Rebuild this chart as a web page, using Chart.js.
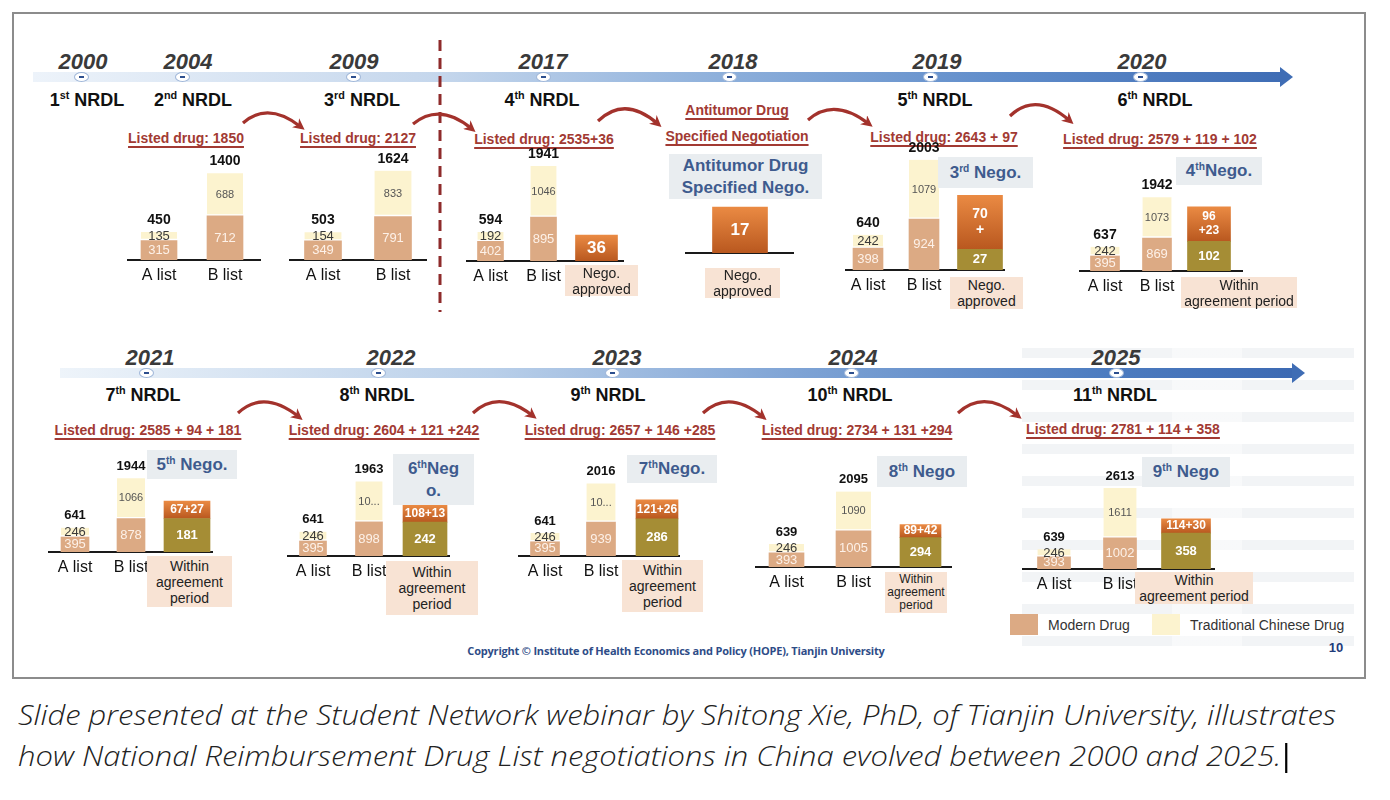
<!DOCTYPE html>
<html>
<head>
<meta charset="utf-8">
<script src="https://cdn.jsdelivr.net/npm/chart.js@4.4.1/dist/chart.umd.min.js"></script>
<style>
  body { margin:0; width:1390px; height:800px; overflow:hidden; position:relative; background:#fff;
         font-family:"Liberation Sans", Arial, sans-serif; color:#111; }
  .abs { position:absolute; }
  sup { font-size:0.6em; vertical-align:0.6em; line-height:0; }
  #frame { left:12px; top:12px; width:1350px; height:663px; border:2px solid #8c8c8c; }
  .year { font-style:italic; font-weight:bold; font-size:22px; color:#3a3a3a; }
  .nrdl { font-weight:bold; font-size:18px; color:#111; }
  .listed { font-weight:bold; font-size:14px; color:#a23a33; text-decoration:underline;
            text-decoration-thickness:1.5px; text-underline-offset:3px; text-align:center; }
  .round { background:#e9edf0; color:#3e5b8e; font-weight:bold; font-size:17px; display:flex;
           align-items:center; justify-content:center; text-align:center; line-height:22px; z-index:2; }
  .capbox { background:#f8e3d4; color:#222; font-size:14px; display:flex; align-items:center;
            justify-content:center; text-align:center; line-height:16px; z-index:2; }
  .baseline { height:2px; background:#1a1a1a; z-index:1; }
  .dot { width:13px; height:8px; border-radius:50%; background:#fff; border:1.5px solid #9fb6d8; }
  .dot::after { content:""; position:absolute; left:4px; top:3px; width:5px; height:2px; background:#2d4f8e; }
  .stripes { background:repeating-linear-gradient(180deg, #f2f4f6 0 10px, rgba(255,255,255,0) 10px 32px); z-index:0; }
</style>
</head>
<body>
<div id="frame" class="abs"></div>
<div class="abs stripes" style="left:1022px;top:348px;width:150px;height:300px;"></div>
<div class="abs stripes" style="left:1172px;top:348px;width:70px;height:300px;opacity:0.55;"></div>
<div class="abs stripes" style="left:1242px;top:348px;width:112px;height:300px;"></div>
<svg class="abs" id="deco" width="1390" height="800" style="left:0;top:0;z-index:3;pointer-events:none">
  <defs>
    <marker id="ah" viewBox="0 0 10 10" refX="6" refY="5" markerWidth="3.6" markerHeight="3.6" orient="auto">
      <path d="M0,0 L10,5 L0,10 L3,5 z" fill="#a3322c"/>
    </marker>
  </defs>
</svg>
<script>
// ---------- data ----------
const panelYears = ['2004', '2009', '2017', '2018', '2019', '2020', '2021', '2022', '2023', '2024', '2025'];
const listedDrug = ['Listed drug: 1850', 'Listed drug: 2127', 'Listed drug: 2535+36',
  'Antitumor Drug\nSpecified Negotiation', 'Listed drug: 2643 + 97', 'Listed drug: 2579 + 119 + 102',
  'Listed drug: 2585 + 94 + 181', 'Listed drug: 2604 + 121 +242', 'Listed drug: 2657 + 146 +285',
  'Listed drug: 2734 + 131 +294', 'Listed drug: 2781 + 114 + 358'];
const listCategories = ['A list', 'B list'];
const seriesNames = ['Modern Drug', 'Traditional Chinese Drug'];
const aModern = [315, 349, 402, null, 398, 395, 395, 395, 395, 393, 393];
const aTcm    = [135, 154, 192, null, 242, 242, 246, 246, 246, 246, 246];
const bModern = [712, 791, 895, null, 924, 869, 878, 898, 939, 1005, 1002];
const bTcm    = [688, 833, 1046, null, 1079, 1073, 1066, 1065, 1077, 1090, 1611];
const bTcmText = [null, null, null, null, null, null, null, '10...', '10...', null, null];
const negoTop  = [null, null, 36, 17, 70, 119, 94, 121, 147, 131, 144];
const negoTopText = [null, null, '36', '17', '70\n+', '96\n+23', '67+\n27', '108\n+13', '121\n+26', '89+\n42', '114+\n30'];
const negoAgree = [null, null, null, null, 27, 102, 181, 242, 286, 294, 358];
const negoRound = [null, null, null, 'Antitumor Drug\nSpecified Nego.', '3rd Nego.', '4thNego.', '5th Nego.',
  '6thNeg\no.', '7thNego.', '8th Nego', '9th Nego'];
const negoCaption = [null, null, 'Nego.\napproved', 'Nego.\napproved', 'Nego.\napproved', 'Within\nagreement period',
  'Within\nagreement\nperiod', 'Within\nagreement\nperiod', 'Within\nagreement\nperiod', 'Within\nagreement\nperiod',
  'Within\nagreement period'];
const yearsTop = ['2000', '2004', '2009', '2017', '2018', '2019', '2020'];
const nrdlTop = ['1st', '2nd', '3rd', '4th', null, '5th', '6th'];
const yearsBottom = ['2021', '2022', '2023', '2024', '2025'];
const nrdlBottom = ['7th', '8th', '9th', '10th', '11th'];

// ---------- layout ----------
const topRow = { yearY:62, lineY:77, nrdlY:100, x1:33, x2:1280,
  yearX:[83,188,354,543,733,937,1142], dotX:[82,183,354,544,730,931,1141], nrdlX:[87,193,362,542,null,935,1155] };
const botRow = { yearY:358, lineY:373, nrdlY:395, x1:60, x2:1292,
  yearX:[150,391,617,853,1116], dotX:[147,379,613,852,1117], nrdlX:[143,377,608,850,1115] };
// c0: first bar centre, s: category spacing, base: baseline y, kAB / kN: px per unit
const P = [
  { c0:159, s:66, base:260, kAB:0.062, bw:36, line:[127,261], lx:186, ly:138 },
  { c0:323, s:70, base:260, kAB:0.055, bw:37, line:[289,427], lx:358, ly:138 },
  { c0:490, s:53, base:261, kAB:0.049, bw:26, nw:42, kN:0.72, nf:17, line:[466,624], lx:544, ly:139,
    cap:[565,265,73,31] },
  { c0:740, s:100, base:253, nw:55, kN:2.7, nf:17, line:[685,794], lx:737, ly:123,
    cap:[705,268,75,30], round:[669,154,153,45] },
  { c0:868, s:56, base:270, kAB:0.055, bw:30, nw:45, kN:0.77, nf:14, line:[845,1005], lx:944, ly:137,
    cap:[950,277,73,32], round:[938,157,95,31] },
  { c0:1105, s:52, base:271, kAB:0.038, bw:29, nw:43, kN:0.29, nf:12, line:[1079,1243], lx:1160, ly:139,
    cap:[1181,277,116,31], round:[1176,157,86,28] },
  { c0:75, s:56, base:552, kAB:0.038, bw:28, nw:46, kN:0.185, nf:12, line:[48,213], lx:148, ly:430,
    cap:[147,556,85,51], round:[147,450,90,29] },
  { c0:313, s:56, base:556, kAB:0.038, bw:27, nw:44, kN:0.14, nf:12, line:[287,450], lx:384, ly:430,
    cap:[386,561,92,54], round:[393,454,81,51] },
  { c0:545, s:56, base:556, kAB:0.036, bw:29, nw:42, kN:0.13, nf:12, line:[518,680], lx:620, ly:430,
    cap:[622,560,81,52], round:[627,455,90,28] },
  { c0:786, s:67, base:567, kAB:0.036, bw:35, nw:41, kN:0.1, nf:12, line:[755,952], lx:857, ly:430,
    cap:[885,572,62,41], round:[877,456,90,31], capFont:12 },
  { c0:1054, s:66, base:569, kAB:0.031, bw:33, nw:49, kN:0.1, nf:12, line:[1022,1215], lx:1123, ly:429,
    cap:[1135,572,118,32], round:[1142,457,88,30] }
];
const arrows = [
  [243,123,268,101,301,127], [413,124,440,102,472,129], [598,121,625,95,658,124],
  [808,120,834,97,869,124], [1010,116,1036,91,1070,121],
  [238,413,264,389,299,417], [473,413,499,389,533,416], [703,413,729,389,763,417], [958,413,984,389,1018,416]
];

// ---------- helpers ----------
const FONT = '"Liberation Sans", Arial, sans-serif';
const fmt = s => s.replace(/^(\d+)(st|nd|rd|th)/, '$1<sup>$2</sup>').replace(/\n/g, '<br>');
function put(html, x, y, cls, css) {
  const d = document.createElement('div');
  d.className = 'abs ' + (cls || '');
  d.innerHTML = html;
  d.style.cssText = `left:${x}px;top:${y}px;transform:translate(-50%,-50%);white-space:nowrap;` + (css || '');
  document.body.appendChild(d);
  return d;
}
function box(html, r, cls, css) {
  const d = document.createElement('div');
  d.className = 'abs ' + cls;
  d.innerHTML = html ? '<span>' + html + '</span>' : '';
  d.style.cssText = `left:${r[0]}px;top:${r[1]}px;width:${r[2]}px;height:${r[3]}px;` + (css || '');
  document.body.appendChild(d);
  return d;
}

// ---------- timelines ----------
function timeline(row, years, nrdl, grad) {
  const h = 10;
  box('', [row.x1, row.lineY - h / 2, row.x2 - row.x1, h], '', `background:${grad};`);
  const head = document.createElement('div');
  head.className = 'abs';
  head.style.cssText = `left:${row.x2}px;top:${row.lineY - 10}px;width:0;height:0;border-left:13px solid #3f6db5;` +
    'border-top:10px solid transparent;border-bottom:10px solid transparent;';
  document.body.appendChild(head);
  years.forEach((y, i) => {
    put(y, row.yearX[i], row.yearY, 'year');
    const d = document.createElement('div');
    d.className = 'abs dot';
    d.style.cssText = `left:${row.dotX[i] - 8}px;top:${row.lineY - 5.5}px;`;
    document.body.appendChild(d);
    if (nrdl[i]) put(fmt(nrdl[i]) + ' NRDL', row.nrdlX[i], row.nrdlY, 'nrdl');
  });
}
timeline(topRow, yearsTop, nrdlTop, 'linear-gradient(90deg,#edf3fa 0%,#c4d6ec 33%,#8eb0db 55%,#5f8cca 78%,#3f6db5 100%)');
timeline(botRow, yearsBottom, nrdlBottom, 'linear-gradient(90deg,#eef4fa 0%,#b9cfe9 35%,#7ea3d5 60%,#4d7cc0 85%,#3d6ab3 100%)');

// ---------- decorations ----------
const svg = document.getElementById('deco');
const ns = 'http://www.w3.org/2000/svg';
const dash = document.createElementNS(ns, 'line');
[['x1',440],['y1',40],['x2',440],['y2',312],['stroke','#8e2b2b'],['stroke-width',3],['stroke-dasharray','11 7']]
  .forEach(([k, v]) => dash.setAttribute(k, v));
svg.appendChild(dash);
arrows.forEach(a => {
  const p = document.createElementNS(ns, 'path');
  p.setAttribute('d', `M${a[0]},${a[1]} Q${a[2]},${a[3]} ${a[4]},${a[5]}`);
  p.setAttribute('stroke', '#a3322c'); p.setAttribute('stroke-width', 3.2);
  p.setAttribute('fill', 'none'); p.setAttribute('marker-end', 'url(#ah)');
  svg.appendChild(p);
});

// ---------- panels ----------
function makePanel(i) {
  const L = P[i];
  const hasAB = aModern[i] != null, hasN = negoTop[i] != null;
  const labels = (hasAB ? listCategories.slice() : []).concat(hasN ? [''] : []);
  const n = labels.length, W = n * L.s, H = 150, PB = 30;

  // texts around the bars
  const lines = listedDrug[i].split('\n');
  put(lines.join('<br>'), L.lx, L.ly, 'listed', lines.length > 1 ? 'line-height:26px;' : '');
  box('', [L.line[0], L.base - 1, L.line[1] - L.line[0], 2], 'baseline');
  if (negoRound[i]) box(fmt(negoRound[i]), L.round, 'round');
  if (negoCaption[i]) box(negoCaption[i].replace(/\n/g, '<br>'), L.cap, 'capbox',
    L.capFont ? `font-size:${L.capFont}px;line-height:13px;` : '');

  const wrap = document.createElement('div');
  wrap.className = 'abs';
  wrap.style.cssText = `left:${L.c0 - L.s / 2}px;top:${L.base - H}px;width:${W}px;height:${H + PB}px;z-index:1;`;
  const cv = document.createElement('canvas');
  wrap.appendChild(cv);
  document.body.appendChild(wrap);

  const datasets = [];
  if (hasAB) {
    const tail = hasN ? [null] : [];
    datasets.push({ label: seriesNames[0], kind: 'modern', data: [aModern[i], bModern[i], ...tail],
      backgroundColor: '#dcaa84', yAxisID: 'y', barThickness: L.bw });
    datasets.push({ label: seriesNames[1], kind: 'tcm', data: [aTcm[i], bTcm[i], ...tail],
      texts: [null, bTcmText[i], null], backgroundColor: '#fcf3cf', borderColor: '#ffffff',
      borderWidth: { top: 0, left: 0, right: 0, bottom: 2 }, borderSkipped: false, yAxisID: 'y', barThickness: L.bw });
  }
  if (hasN) {
    const head = hasAB ? [null, null] : [];
    const agree = negoAgree[i] || 0;
    datasets.push({ label: 'Within agreement period', kind: 'agree', data: [...head, negoAgree[i]],
      backgroundColor: '#a58d35', yAxisID: 'y2', barThickness: L.nw });
    datasets.push({ label: 'Negotiated', kind: 'nego', data: [...head, negoTop[i]], texts: [...head, negoTopText[i]],
      yAxisID: 'y2', barThickness: L.nw,
      backgroundColor: c => {
        const sc = c.chart.scales.y2;
        if (!sc || c.type !== 'data' || c.raw == null) return '#d9772f';
        const y0 = sc.getPixelForValue(agree + c.raw), y1 = sc.getPixelForValue(agree);
        if (!isFinite(y0) || !isFinite(y1) || y0 === y1) return '#d9772f';
        const g = c.chart.ctx.createLinearGradient(0, y0, 0, y1);
        g.addColorStop(0, '#ea8a43'); g.addColorStop(1, '#b9581f');
        return g;
      } });
  }

  const valuePlugin = {
    id: 'values' + i,
    afterDatasetsDraw(chart) {
      const ctx = chart.ctx;
      ctx.save();
      ctx.textAlign = 'center';
      ctx.textBaseline = 'middle';
      chart.data.datasets.forEach((d, di) => {
        chart.getDatasetMeta(di).data.forEach((el, j) => {
          const v = d.data[j];
          if (v == null) return;
          const txt = (d.texts && d.texts[j]) || String(v);
          const h = Math.abs(el.base - el.y), mid = (el.base + el.y) / 2;
          let size = 13, weight = 'normal', color = '#fdf1e8';
          if (d.kind === 'tcm') { size = j === 0 ? 13 : 11; color = j === 0 ? '#3a3a3a' : '#555'; }
          if (d.kind === 'agree') { weight = 'bold'; color = '#fff'; }
          if (d.kind === 'nego') { weight = 'bold'; color = '#fff'; size = L.nf; }
          let parts = txt.split('\n');
          const lh = size + 2;
          if (parts.length > 1 && h < parts.length * lh) parts = [parts.join('')];
          ctx.font = `${weight} ${size}px ${FONT}`;
          ctx.fillStyle = color;
          parts.forEach((p, k) => ctx.fillText(p, el.x, mid + (k - (parts.length - 1) / 2) * lh));
        });
      });
      if (hasAB) {
        const tops = chart.getDatasetMeta(1).data;
        const totals = [aModern[i] + aTcm[i], bModern[i] + bTcm[i]];
        ctx.font = `bold ${L.base > 400 ? 13 : 14}px ${FONT}`;
        ctx.fillStyle = '#111';
        totals.forEach((t, j) => ctx.fillText(String(t), tops[j].x, tops[j].y - 12));
      }
      ctx.font = `16px ${FONT}`;
      ctx.fillStyle = '#111';
      labels.forEach((lab, j) => {
        if (lab) ctx.fillText(lab, chart.scales.x.getPixelForValue(j), chart.chartArea.bottom + 16);
      });
      ctx.restore();
    }
  };

  new Chart(cv, {
    type: 'bar',
    data: { labels, datasets },
    options: {
      responsive: true, maintainAspectRatio: false, animation: false,
      layout: { padding: { top: 0, bottom: PB, left: 0, right: 0 } },
      plugins: { legend: { display: false }, tooltip: { enabled: false } },
      scales: {
        x: { display: false, stacked: true, offset: true },
        y: { display: false, stacked: true, min: 0, max: L.kAB ? H / L.kAB : 100 },
        y2: { axis: 'y', display: false, stacked: true, min: 0, max: L.kN ? H / L.kN : 100 }
      }
    },
    plugins: [valuePlugin]
  });
}
panelYears.forEach((y, i) => makePanel(i));

// ---------- legend, footer ----------
const legendColors = ['#dcaa84', '#fcf3cf'];
const legendX = [1010, 1152];
seriesNames.forEach((nm, k) => {
  box('', [legendX[k], 614, 28, 21], '', `background:${legendColors[k]};z-index:1;`);
  const t = put(nm, legendX[k] + 38, 625, '', 'font-size:14px;color:#333;z-index:1;font-family:"Liberation Sans Narrow","Liberation Sans",Arial;');
  t.style.transform = 'translate(0,-50%)';
});
put('Copyright © Institute of Health Economics and Policy (HOPE), Tianjin University', 676, 650, '',
  'font-size:11px;color:#2e4c87;font-weight:bold;font-family:"Open Sans",sans-serif;letter-spacing:-0.2px;');
put('10', 1336, 647, '', 'font-size:13px;font-weight:bold;color:#1f3c7a;z-index:1;');

const cap = document.createElement('div');
cap.className = 'abs';
cap.style.cssText = 'left:18px;top:694px;font-family:"Open Sans",sans-serif;font-style:italic;font-weight:300;' +
  'font-size:28px;line-height:41px;color:#222;white-space:nowrap;transform-origin:0 0;';
cap.innerHTML = 'Slide presented at the Student Network webinar by Shitong Xie, PhD, of Tianjin University, illustrates<br>' +
  'how National Reimbursement Drug List negotiations in China evolved between 2000 and 2025.' +
  '<span style="display:inline-block;width:0;height:30px;border-left:2.5px solid #000;vertical-align:-7px;margin-left:3px;"></span>';
document.body.appendChild(cap);
const w = cap.getBoundingClientRect().width;
cap.style.transform = `scaleX(${1318 / w})`;
</script>
</body>
</html>
